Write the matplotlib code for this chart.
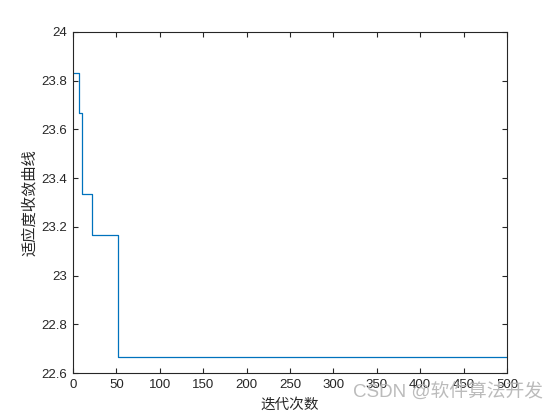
import matplotlib
matplotlib.use("Agg")
import matplotlib.pyplot as plt

# data: iteration at which each fitness level starts, and that level
iter_starts = [1, 7, 10, 22, 52, 500]
fitness = [23.833, 23.667, 23.333, 23.167, 22.667, 22.667]

xticks = [0, 50, 100, 150, 200, 250, 300, 350, 400, 450, 500]
yticks = [22.6, 22.8, 23.0, 23.2, 23.4, 23.6, 23.8, 24.0]
ytick_labels = ["22.6", "22.8", "23", "23.2", "23.4", "23.6", "23.8", "24"]

plt.rcParams['font.family'] = ['Liberation Sans', 'Noto Sans CJK SC', 'DejaVu Sans']

fig = plt.figure(figsize=(5.6, 4.2), dpi=100)
ax = fig.add_axes([73/560, 1-373/420, (507-73)/560, (373-32)/420])

ax.step(iter_starts, fitness, where='post', color='#0072BD', linewidth=0.9)

ax.set_xlim(0, 500)
ax.set_ylim(22.6, 24)
ax.set_xticks(xticks)
ax.set_yticks(yticks)
ax.set_yticklabels(ytick_labels)

edge = '#262626'
for s in ax.spines.values():
    s.set_color(edge)
    s.set_linewidth(0.8)
ax.tick_params(direction='in', top=True, right=True, length=3.6, width=0.8,
               colors=edge, labelsize=9.5, pad=4.5)
for lab in ax.get_xticklabels() + ax.get_yticklabels():
    lab.set_color(edge)

cjk = ['Noto Sans CJK SC', 'DejaVu Sans']
ax.set_xlabel('迭代次数', family=cjk, fontsize=10.5, color=edge, labelpad=5)
ax.set_ylabel('适应度收敛曲线', family=cjk, fontsize=11, color=edge, labelpad=2)

fig.text(543/560, 1-392/420, 'CSDN @软件算法开发', family=['Liberation Sans', 'Noto Sans CJK SC'],
         fontsize=13.5, color='#b4b4b4', ha='right', va='center', alpha=0.9)

fig.savefig('out.png', dpi=100, facecolor='white')
